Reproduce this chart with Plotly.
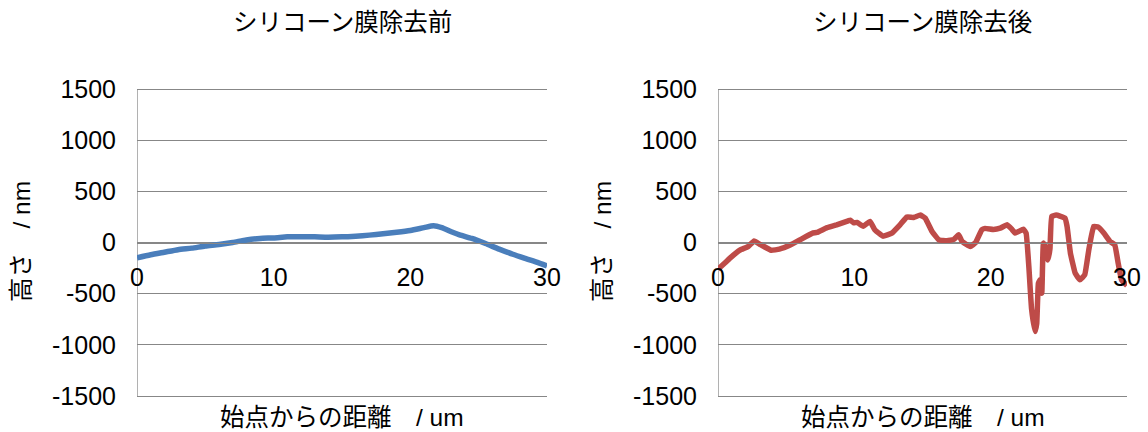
import plotly.graph_objects as go

# ---- data ----
before_x = [0, 1, 2, 3, 4, 5, 6, 7, 8, 9, 10, 11, 12, 13, 14, 15, 16, 17, 18, 19, 20, 21, 21.7,
            22.3, 23, 23.6, 24.5, 25.5, 26.5, 27.5, 28.5, 29.3, 30]
before_y = [-150, -120, -95, -70, -55, -35, -20, 0, 25, 40, 45, 55, 57, 55, 52, 55, 62, 72, 85, 100,
            118, 145, 163, 145, 105, 75, 40, -10, -65, -115, -160, -195, -230]

after_x = [0, 0.5, 0.9, 1.6, 2.2, 2.65, 3.1, 3.9, 4.5, 5.3, 6.0, 6.9, 7.25, 8.0, 8.7, 9.55, 9.7,
           9.95, 10.2, 10.65, 11.15, 11.5, 12.1, 12.75, 13.35, 13.85, 14.35, 14.85, 15.2, 15.7,
           16.2, 16.8, 17.3, 17.65, 17.9, 18.5, 18.9, 19.35, 19.6, 20.2, 20.7, 21.2, 21.55, 21.8,
           22.4, 22.6, 22.8, 23.0, 23.26, 23.38, 23.5, 23.62, 23.75, 23.87, 24.05, 24.2, 24.35,
           24.48, 24.8, 25.45, 25.6, 25.85, 26.2, 26.55, 26.9, 27.2, 27.55, 27.9, 28.3, 28.75,
           29.1, 29.35, 29.6, 30.0]
after_y = [-260, -200, -150, -75, -40, 15, -20, -75, -65, -25, 25, 90, 98, 145, 172, 212, 218,
           192, 196, 160, 206, 124, 62, 92, 173, 248, 245, 268, 238, 108,
           26, 18, 30, 75, 10, -40, 0, 124, 138, 128, 140, 173, 130, 92,
           130, 92, -234, -650, -870, -790, -400, -365, -495, -6, -60, -170, -60,
           255, 268, 238, 160, -104, -300, -365, -316, -71, 156, 150, 92, 10,
           -22, -200, -365, -420]

x_ticks = [0, 10, 20, 30]
y_ticks = [-1500, -1000, -500, 0, 500, 1000, 1500]
y_ticktext = ["-1500", "-1000", "-500", "0", "500", "1000", "1500"]
titles = ["シリコーン膜除去前", "シリコーン膜除去後"]
x_title = "始点からの距離　/ um"
y_title = "高さ　/ nm"

W, H = 1148, 432
FONT = "Liberation Sans, Arial, Noto Sans CJK JP, sans-serif"
GRID = "#878787"

left_px = [(137, 547), (718, 1127)]
top_px, bot_px = 89, 396
EPS = 25  # small range padding so that edge gridlines are drawn
px_per_unit = (bot_px - top_px) / 3000.0
top_ext = top_px - EPS * px_per_unit
bot_ext = bot_px + EPS * px_per_unit
ydom = [(H - bot_ext) / H, (H - top_ext) / H]
xpos = (ydom[0] + ydom[1]) / 2

fig = go.Figure()
fig.add_trace(go.Scatter(x=before_x, y=before_y, mode="lines", xaxis="x", yaxis="y",
                         line=dict(color="#4A7EBB", width=5.5, shape="spline", smoothing=0.6),
                         showlegend=False))
fig.add_trace(go.Scatter(x=after_x, y=after_y, mode="lines", xaxis="x2", yaxis="y2",
                         line=dict(color="#BE4B48", width=5.5, shape="spline", smoothing=0.3),
                         showlegend=False))

common_x = dict(range=[0, 30], tickvals=x_ticks, showgrid=False, zeroline=False,
                showline=True, linecolor=GRID, linewidth=1, ticks="", automargin=False,
                tickfont=dict(family=FONT, size=25, color="#000"),
                anchor="free", position=xpos, ticklabelstandoff=12)
common_y = dict(range=[-1500 - EPS, 1500 + EPS], tickvals=y_ticks, ticktext=y_ticktext,
                domain=ydom, showgrid=True, automargin=False,
                gridcolor=GRID, gridwidth=1, zeroline=False, showline=False,
                ticks="",
                tickfont=dict(family=FONT, size=25, color="#000"), ticklabelstandoff=20)

fig.update_layout(
    width=W, height=H,
    margin=dict(l=0, r=0, t=0, b=0),
    paper_bgcolor="white", plot_bgcolor="white",
    xaxis=dict(domain=[left_px[0][0] / W, left_px[0][1] / W], **common_x),
    xaxis2=dict(domain=[left_px[1][0] / W, left_px[1][1] / W], **common_x),
    yaxis=dict(anchor="x", **common_y),
    yaxis2=dict(anchor="x2", **common_y),
)

# vertical axis lines spanning exactly -1500..1500 (Excel style)
shapes = []
for xr, yr in (("x", "y"), ("x2", "y2")):
    shapes.append(dict(type="line", xref=xr, yref=yr, x0=0, x1=0, y0=y_ticks[0], y1=y_ticks[-1],
                       line=dict(color=GRID, width=1.3), layer="below"))
fig.update_layout(shapes=shapes)

annos = []
for i, (l, r) in enumerate(left_px):
    cx = (l + r) / 2 / W
    annos.append(dict(text=titles[i], x=cx, y=1 - 23 / H, xref="paper", yref="paper",
                      showarrow=False, xanchor="center", yanchor="middle",
                      font=dict(family=FONT, size=24.5, color="#000")))
    annos.append(dict(text=x_title, x=cx, y=1 - 417 / H, xref="paper", yref="paper",
                      showarrow=False, xanchor="center", yanchor="middle",
                      font=dict(family=FONT, size=24.5, color="#000")))
    annos.append(dict(text=y_title, x=(l - 116) / W, y=1 - 242 / H, xref="paper", yref="paper",
                      showarrow=False, xanchor="center", yanchor="middle", textangle=-90,
                      font=dict(family=FONT, size=24.5, color="#000")))
fig.update_layout(annotations=annos)

fig.write_html("out.html")
